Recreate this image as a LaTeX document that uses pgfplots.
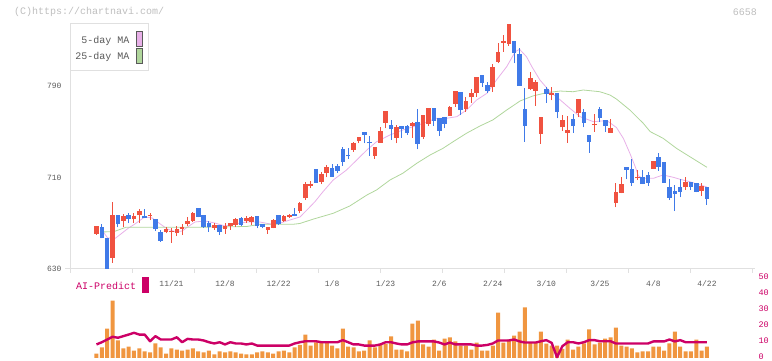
\documentclass[border=0pt]{standalone}
\usepackage{fontspec}
\setmainfont{Liberation Mono}
\usepackage{pgfplots}
\usepackage{pgfplotstable}
\pgfplotsset{compat=1.18}
\definecolor{upred}{RGB}{240,82,64}
\definecolor{dnblue}{RGB}{64,122,232}
\definecolor{mafive}{RGB}{232,176,232}
\definecolor{matwf}{RGB}{176,214,156}
\definecolor{volor}{RGB}{240,150,64}
\definecolor{aimag}{RGB}{204,0,102}
\definecolor{axgray}{RGB}{224,224,224}
\definecolor{txtgray}{RGB}{90,90,90}
\definecolor{ltgray}{RGB}{190,190,190}

\pgfplotstableread{
i o h l c
0 660.6 667.6 660.0 667.6
3 639.4 688.8 635.5 677.2
5 672.2 678.1 666.5 676.3
7 673.7 678.7 670.5 676.3
8 677.2 682.5 670.0 681.0
10 676.3 678.7 672.8 677.2
13 662.1 667.0 661.2 664.7
14 662.5 665.6 653.0 663.5
15 661.7 667.6 658.8 664.7
16 665.2 669.3 659.7 667.0
17 669.1 675.7 667.6 672.0
18 672.2 680.1 671.4 678.7
22 666.1 670.5 664.1 668.8
24 665.0 670.5 660.6 667.6
25 667.6 670.0 664.1 670.0
26 668.5 674.4 667.0 673.5
28 672.2 676.3 670.0 674.6
29 671.4 676.6 668.5 675.7
32 664.1 667.0 660.6 666.5
33 666.1 673.5 665.6 672.8
35 672.2 677.2 671.4 676.3
36 675.9 678.1 674.6 676.9
38 681.0 688.8 678.7 687.5
39 691.8 706.3 690.6 704.1
40 703.0 707.0 700.6 704.0
42 706.3 715.1 704.3 713.1
43 714.2 720.9 710.2 719.5
48 734.1 741.3 732.6 739.9
49 741.9 745.4 739.9 745.4
52 729.1 736.4 726.2 736.4
53 740.5 754.4 740.5 750.7
54 757.9 768.2 753.0 768.2
56 744.8 755.9 739.9 754.2
59 755.0 758.8 744.8 757.9
61 745.7 764.6 744.0 764.6
62 756.8 770.8 755.0 770.8
66 763.8 772.5 763.8 771.6
67 774.3 785.6 771.9 785.6
69 769.9 780.7 767.5 777.1
70 780.0 787.4 775.4 784.0
71 784.2 797.9 780.7 797.9
74 789.4 809.2 785.0 806.6
75 811.1 828.0 809.8 819.8
76 827.9 834.6 820.0 829.6
77 826.7 844.2 825.2 844.2
81 787.1 802.5 786.5 797.0
82 785.9 795.2 772.8 793.8
83 748.3 762.9 739.3 762.9
85 781.9 788.9 777.5 783.6
87 753.9 764.6 750.9 760.3
88 749.2 763.8 740.4 751.5
90 766.1 778.4 762.6 778.4
93 755.7 765.5 750.0 756.8
96 749.2 761.2 749.2 753.5
97 688.0 705.5 683.9 697.6
98 696.7 710.2 696.2 704.3
101 709.3 716.6 707.8 710.2
104 717.4 724.4 717.4 724.4
110 701.4 710.2 699.1 706.1
113 698.5 704.9 694.0 702.6
}\up

\pgfplotstableread{
i o h l c
1 666.5 669.3 656.8 656.8
2 656.8 656.8 626.0 628.0
4 677.2 677.2 666.5 669.3
6 677.2 678.7 670.0 673.5
9 676.3 682.5 674.3 674.3
11 673.7 673.7 663.5 664.7
12 662.1 664.0 654.0 654.7
19 683.1 683.1 675.2 675.7
20 677.2 677.2 666.0 667.0
21 670.5 672.2 662.6 666.5
23 668.2 668.2 659.7 662.6
27 674.6 675.7 667.6 668.5
30 676.3 676.3 665.6 667.8
31 669.3 669.3 665.6 667.0
34 677.2 677.2 668.5 669.3
37 678.1 683.3 676.3 676.3
41 717.4 717.4 705.5 705.5
44 718.0 721.8 710.7 710.7
45 720.0 721.8 714.2 716.0
46 734.9 736.4 720.0 723.8
47 729.3 735.5 726.2 728.4
50 749.8 749.8 739.9 747.2
51 741.4 746.3 728.8 739.9
55 755.9 760.3 742.8 752.4
57 755.0 755.0 744.8 752.4
58 755.0 755.9 747.2 749.2
60 758.5 769.9 734.6 739.6
63 770.8 770.8 755.0 759.7
64 761.8 761.8 746.3 750.9
65 762.9 762.9 753.0 756.8
68 784.8 784.8 764.6 769.0
72 799.6 799.6 789.4 793.0
73 790.9 793.8 783.6 785.6
78 829.4 829.4 809.8 819.1
79 818.0 823.0 790.3 790.3
80 769.9 788.5 741.3 755.3
84 787.4 789.4 775.4 782.8
86 783.9 783.9 761.8 767.5
89 760.9 765.5 749.2 755.3
91 767.5 769.6 753.9 757.9
92 747.2 747.2 731.7 741.3
94 769.9 771.9 758.5 762.0
95 760.3 760.3 750.0 755.0
99 718.9 718.9 708.4 716.6
100 717.4 726.2 702.6 705.5
102 710.7 716.6 704.3 704.3
103 712.2 715.1 702.6 705.5
105 727.9 731.2 715.7 719.5
106 723.8 723.8 705.5 705.5
107 701.7 708.4 690.3 692.4
108 698.5 703.5 680.5 695.9
109 701.7 708.4 692.7 697.6
111 705.8 705.8 699.1 701.7
112 704.9 704.9 697.0 697.6
114 701.4 701.4 686.0 691.5
}\dn

\pgfplotstableread{
i v a
0 2.8 8.5
1 6.6 9.9
2 18.5 11.6
3 36.0 13.3
4 11.0 12.7
5 6.0 13.7
6 7.2 14.7
7 4.7 15.8
8 6.0 14.7
9 4.1 14.7
10 3.5 10.5
11 9.1 13.7
12 6.6 11.6
13 2.8 11.6
14 6.0 11.6
15 5.3 13.0
16 4.7 9.9
17 5.3 12.0
18 6.0 11.6
19 4.1 11.6
20 3.5 11.0
21 4.7 9.9
22 2.2 9.1
23 4.1 9.9
24 3.5 8.5
25 4.1 9.9
26 3.5 9.1
27 2.8 9.1
28 2.2 8.5
29 2.2 9.1
30 3.5 7.8
31 4.1 7.8
32 3.5 7.8
33 2.8 7.8
34 4.1 7.8
35 4.7 7.8
36 3.5 7.8
37 6.6 9.1
38 8.2 9.9
39 14.7 10.5
40 7.8 10.5
41 9.8 10.5
42 9.8 9.9
43 9.8 9.9
44 7.8 9.9
45 6.0 9.9
46 18.5 11.2
47 7.2 9.9
48 6.6 8.5
49 4.1 8.5
50 4.7 7.8
51 11.0 7.8
52 6.6 7.8
53 8.8 8.5
54 8.8 9.9
55 13.5 9.9
56 5.3 9.1
57 5.3 8.5
58 4.1 8.5
59 21.6 9.8
60 23.5 10.4
61 8.5 10.4
62 7.2 10.4
63 11.6 10.4
64 4.7 9.7
65 12.2 8.5
66 12.9 9.7
67 10.4 8.5
68 7.8 8.5
69 7.8 8.5
70 5.3 8.5
71 9.7 7.8
72 4.7 7.8
73 4.7 8.2
74 7.8 9.1
75 28.5 11.0
76 9.7 11.0
77 11.6 11.0
78 14.1 11.6
79 16.6 10.4
80 31.7 9.7
81 9.7 9.7
82 9.7 9.7
83 16.6 10.5
84 9.0 11.2
85 7.8 9.5
86 7.8 0.5
87 5.8 7.4
88 11.6 9.9
89 5.3 9.9
90 7.2 9.1
91 9.1 9.9
92 17.9 11.2
93 8.5 11.2
94 9.7 10.5
95 12.2 10.5
96 12.9 10.5
97 19.1 9.1
98 7.8 9.1
99 7.2 9.1
100 6.0 9.1
101 3.5 9.1
102 4.1 9.1
103 4.1 9.1
104 7.2 10.4
105 7.2 10.4
106 4.7 10.4
107 9.1 11.6
108 16.6 10.4
109 7.2 11.2
110 4.1 9.9
111 4.1 9.9
112 11.6 9.9
113 4.7 9.9
114 7.2 9.9
}\vol

\begin{document}
\begin{tikzpicture}[x=1pt,y=1pt]
\useasboundingbox (0,0) rectangle (772,361);
\begin{axis}[
  at={(65pt,92pt)}, anchor=south west, scale only axis,
  width=690pt, height=269pt,
  xmin=-5.88, xmax=122.97, ymin=630, ymax=865.2,
  axis line style={draw=none},
  clip mode=individual,
  xtick={14,24,34,44,54,64,74,84,94,104,114},
  xticklabels={11/21,12/8,12/22,1/8,1/23,2/6,2/24,3/10,3/25,4/8,4/22},
  xtick pos=left, ytick pos=left,
  major tick length=0pt,
  xticklabel style={font=\fontsize{8}{8}\selectfont, text=txtgray, yshift=-8pt},
  ytick={630,710,790},
  yticklabel style={font=\fontsize{8}{8}\selectfont, text=txtgray},
  /pgf/number format/assume math mode=true,
]
\draw[axgray, line width=1pt] (axis cs:-5.88,630) -- (axis cs:122.97,630);
\draw[axgray, line width=1pt] (axis cs:-4.82,630) -- (axis cs:-4.82,844.2);
\pgfplotsinvokeforeach{-4.82,6.76,18.34,29.91,41.49,53.07,64.65,76.23,87.80,99.38,110.96,122.54}{
  \draw[axgray, line width=1pt] (axis cs:#1,630) -- ++(0pt,-4pt);
}
\addplot[mafive, line width=0.8pt] coordinates {
(1,664.1) (2.1,657.1) (3.5,656.8) (4.8,661.5) (6,665.9) (7.2,669.4) (9,675.5) (10.4,674.6)
(11.9,669.4) (13.2,665) (14.7,662.6) (16,663.2) (17,666.7) (18.4,671.1) (20.3,672.0) (22.1,670.2)
(24,667.6) (25.9,669.4) (28.1,671.1) (30.5,671.1) (32.4,669.4) (34.3,670.2) (36.1,672.8) (38,675.5)
(39.3,681.6) (40.8,688.9) (42.3,697.6) (44.2,707.8) (46.7,716.6) (48.6,725.3) (50.5,734.1) (52.3,741.3)
(54.8,747.2) (57.2,751.5) (59.1,754.4) (61,757.4) (63.5,761.8) (65.4,761.8) (67.3,763.2) (69.1,769.0)
(71,777.8) (72.9,783.6) (74.7,795.3) (76.6,806.9) (78.2,820.0) (79,822.1) (80.3,815.6) (81.3,806.9)
(82.8,795.3) (84.7,785.0) (86.6,777.8) (88.4,770.5) (90.3,763.2) (92.8,758.8) (95.3,759.8) (97.1,753.7)
(98.4,744.1) (99.6,731.2) (100.6,719.5) (101.2,711.3) (102.1,709.3) (104,709.3) (105.8,712.2)
(107.7,710.2) (109,708.4) (110.8,706.3) (112.7,703.5) (114,701.7)};
\addplot[matwf, line width=0.8pt] coordinates {
(1,662.4) (3.2,662.6) (5.5,666.5) (10,666.5) (17.8,666.5) (23,666.7) (28.1,667.2) (30.5,669.1)
(36.7,669.1) (38,669.8) (40.4,673.5) (44.2,678.7) (47.3,685.1) (50.5,694.7) (52.3,699.1) (54.8,707.8)
(57.2,713.7) (59.8,722.4) (62.3,729.7) (64.7,735.5) (66.6,741.3) (69.1,748.7) (71.6,755.0) (74,760.3)
(76.6,769.0) (79.1,776.9) (81.5,781.3) (84.1,784.2) (86.6,785.6) (89,785.0) (90.9,786.5) (94,785.0)
(95.9,782.1) (97.1,778.6) (99.6,769.0) (102.1,757.4) (103.4,750.1) (105.8,744.3) (108.3,735.5)
(110.8,728.2) (114,718.9)};
% wicks
\addplot[draw=none, mark=none, error bars/.cd, y dir=plus, y explicit, error mark=none,
  error bar style={draw=upred, line width=1pt}]
  table[x=i, y=l, y error plus expr=\thisrow{h}-\thisrow{l}] \up;
\addplot[draw=none, mark=none, error bars/.cd, y dir=plus, y explicit, error mark=none,
  error bar style={draw=dnblue, line width=1pt}]
  table[x=i, y=l, y error plus expr=\thisrow{h}-\thisrow{l}] \dn;
% bodies
\addplot[draw=none, mark=none, error bars/.cd, y dir=plus, y explicit, error mark=none,
  error bar style={draw=upred, line width=4.6pt}]
  table[x=i, y=o, y error plus expr=\thisrow{c}-\thisrow{o}] \up;
\addplot[draw=none, mark=none, error bars/.cd, y dir=plus, y explicit, error mark=none,
  error bar style={draw=dnblue, line width=4.6pt}]
  table[x=i, y=c, y error plus expr=\thisrow{o}-\thisrow{c}] \dn;
\end{axis}

\begin{axis}[
  at={(65pt,3pt)}, anchor=south west, scale only axis,
  width=690pt, height=79.7pt,
  xmin=-5.88, xmax=122.97, ymin=0, ymax=50,
  axis x line=none, axis y line*=right,
  y axis line style={draw=none},
  ytick={0,10,20,30,40,50}, major tick length=0pt,
  yticklabel style={font=\fontsize{8.5}{8.5}\selectfont, text=aimag, yshift=1.5pt},
  /pgf/number format/assume math mode=true,
  clip=false,
]
\addplot[ybar, bar width=4pt, fill=volor, draw=none] table[x=i, y=v] \vol;
\addplot[aimag, line width=2.4pt, line join=round] table[x=i, y=a] \vol;
\end{axis}

% texts and legend
\node[anchor=west, text=ltgray, font=\fontsize{10}{10}\selectfont, inner sep=0] at (14,349) {(C)https://chartnavi.com/};
\node[anchor=east, text=ltgray, font=\fontsize{10}{10}\selectfont, inner sep=0] at (757,349) {6658};
\draw[axgray, fill=white, line width=1pt] (70.3,337) rectangle (148.7,290);
\node[anchor=east, text=txtgray, font=\fontsize{10}{10}\selectfont, inner sep=0] at (129.5,320.3) {5-day MA};
\node[anchor=east, text=txtgray, font=\fontsize{10}{10}\selectfont, inner sep=0] at (129.5,303.7) {25-day MA};
\draw[fill=mafive, draw=black!65, line width=0.8pt] (136.7,330) rectangle (142.7,314.3);
\draw[fill=matwf, draw=black!65, line width=0.8pt] (136.7,312.7) rectangle (142.7,297.7);
\node[anchor=west, text=aimag, font=\fontsize{10}{10}\selectfont, inner sep=0] at (76,75) {AI-Predict};
\fill[aimag] (142,84.3) rectangle (148.7,68.3);
\end{tikzpicture}
\end{document}
